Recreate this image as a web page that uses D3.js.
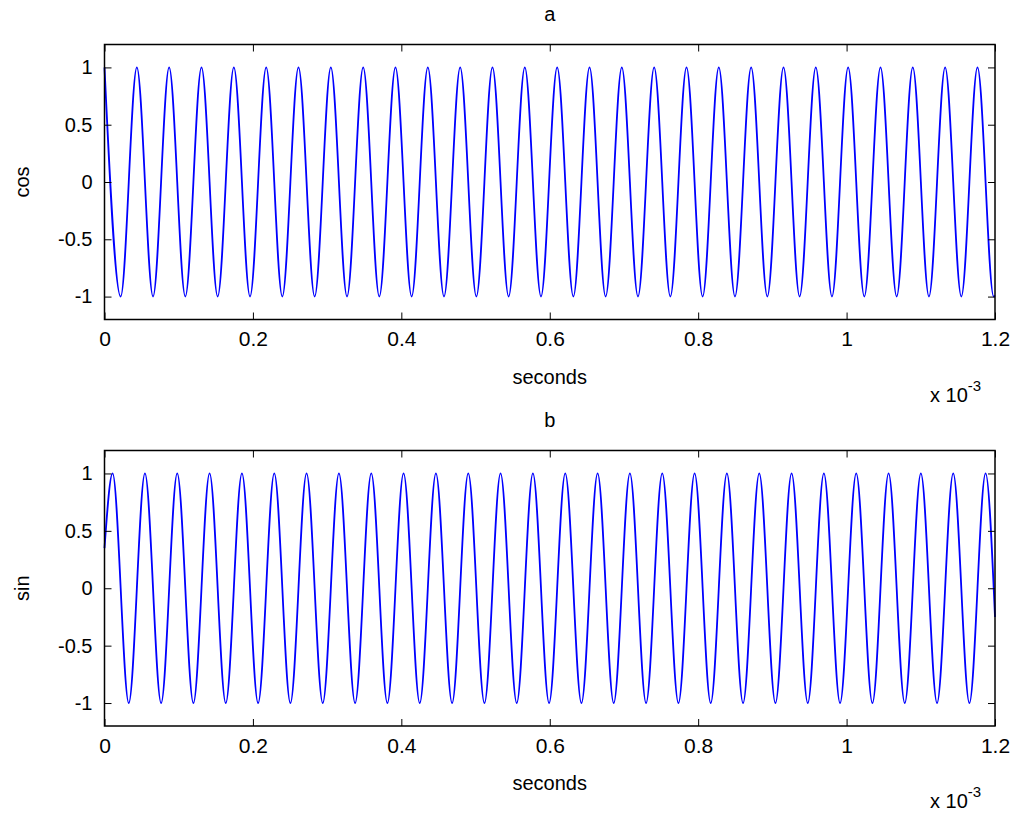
<!DOCTYPE html>
<html><head><meta charset="utf-8">
<script src="https://cdn.jsdelivr.net/npm/d3@7"></script>
<style>body{margin:0;background:#fff}svg{font-family:"Liberation Sans",Arial,sans-serif}</style>
</head><body><svg id="c" width="1024" height="820"></svg>
<script>
// extrema times (x 1e-3 s)
const cosTimes = [0,0.0218,0.0436,0.0654,0.0871,0.1089,0.1307,0.1525,0.1743,0.1961,0.2179,0.2396,0.2614,0.2832,0.3050,0.3268,0.3486,0.3703,0.3921,0.4139,0.4357,0.4575,0.4793,0.5011,0.5228,0.5446,0.5664,0.5882,0.6100,0.6318,0.6536,0.6753,0.6971,0.7189,0.7407,0.7625,0.7843,0.8060,0.8278,0.8496,0.8714,0.8932,0.9150,0.9367,0.9585,0.9803,1.0021,1.0239,1.0457,1.0675,1.0892,1.1110,1.1328,1.1546,1.1764,1.1982,1.2];
const cosValues = [1,-1,1,-1,1,-1,1,-1,1,-1,1,-1,1,-1,1,-1,1,-1,1,-1,1,-1,1,-1,1,-1,1,-1,1,-1,1,-1,1,-1,1,-1,1,-1,1,-1,1,-1,1,-1,1,-1,1,-1,1,-1,1,-1,1,-1,1,-1,-0.99];
const sinTimes = [0,0.0109,0.0327,0.0545,0.0763,0.0980,0.1198,0.1416,0.1634,0.1852,0.2070,0.2288,0.2505,0.2723,0.2941,0.3159,0.3377,0.3595,0.3812,0.4030,0.4248,0.4466,0.4684,0.4902,0.5120,0.5337,0.5555,0.5773,0.5991,0.6209,0.6427,0.6645,0.6862,0.7080,0.7298,0.7516,0.7734,0.7952,0.8169,0.8387,0.8605,0.8823,0.9041,0.9259,0.9477,0.9694,0.9912,1.0130,1.0348,1.0566,1.0784,1.1001,1.1219,1.1437,1.1655,1.1873,1.2];
const sinValues = [0.35,1,-1,1,-1,1,-1,1,-1,1,-1,1,-1,1,-1,1,-1,1,-1,1,-1,1,-1,1,-1,1,-1,1,-1,1,-1,1,-1,1,-1,1,-1,1,-1,1,-1,1,-1,1,-1,1,-1,1,-1,1,-1,1,-1,1,-1,1,-0.25];
const xTicks = [0,0.2,0.4,0.6,0.8,1,1.2];
const yTicks = [-1,-0.5,0,0.5,1];

const svg = d3.select("#c");
const L=104.5, R=995;
const panels = [
  {title:"a", ylab:"cos", t:cosTimes, v:cosValues, top:44.5, bot:319.5},
  {title:"b", ylab:"sin", t:sinTimes, v:sinValues, top:450.5, bot:726}
];
panels.forEach(p=>{
  const x=d3.scaleLinear().domain([0,1.2]).range([L,R]);
  const y=d3.scaleLinear().domain([-1.2,1.2]).range([p.bot,p.top]);
  const g=svg.append("g");
  const line=d3.line().x(d=>x(d[0])).y(d=>y(d[1])).curve(d3.curveMonotoneX);
  g.append("path").datum(p.t.map((t,i)=>[t,p.v[i]])).attr("d",line)
    .attr("fill","none").attr("stroke","#0000ff").attr("stroke-width",1.8);
  const fmt=d=>String(d);
  const ax=(a,tr)=>g.append("g").attr("transform",tr).call(a)
     .call(s=>s.select(".domain").remove())
     .call(s=>s.selectAll("line").attr("stroke","#000"));
  ax(d3.axisBottom(x).tickValues(xTicks).tickSize(-7).tickPadding(12).tickFormat(fmt),`translate(0,${p.bot})`)
    .selectAll("text").attr("font-size",21).attr("font-family","Liberation Sans, Arial");
  ax(d3.axisTop(x).tickValues(xTicks).tickSize(-7).tickFormat(""),`translate(0,${p.top})`);
  ax(d3.axisLeft(y).tickValues(yTicks).tickSize(-7).tickPadding(12).tickFormat(fmt),`translate(${L},0)`)
    .selectAll("text").attr("font-size",20).attr("font-family","Liberation Sans, Arial");
  ax(d3.axisRight(y).tickValues(yTicks).tickSize(-7).tickFormat(""),`translate(${R},0)`);
  g.append("rect").attr("x",L).attr("y",p.top).attr("width",R-L).attr("height",p.bot-p.top)
    .attr("fill","none").attr("stroke","#000").attr("stroke-width",1.5);
  g.append("text").attr("x",(L+R)/2).attr("y",p.top-24).attr("text-anchor","middle").attr("font-size",20).text(p.title);
  g.append("text").attr("x",(L+R)/2).attr("y",p.bot+64).attr("text-anchor","middle").attr("font-size",20).text("seconds");
  g.append("text").attr("transform",`translate(29,${(p.top+p.bot)/2}) rotate(-90)`).attr("text-anchor","middle").attr("font-size",20).text(p.ylab);
  const e=g.append("text").attr("x",930).attr("y",p.bot+82).attr("font-size",20);
  e.append("tspan").text("x 10");
  e.append("tspan").attr("dy",-11).attr("font-size",15).text("-3");
});
</script></body></html>
